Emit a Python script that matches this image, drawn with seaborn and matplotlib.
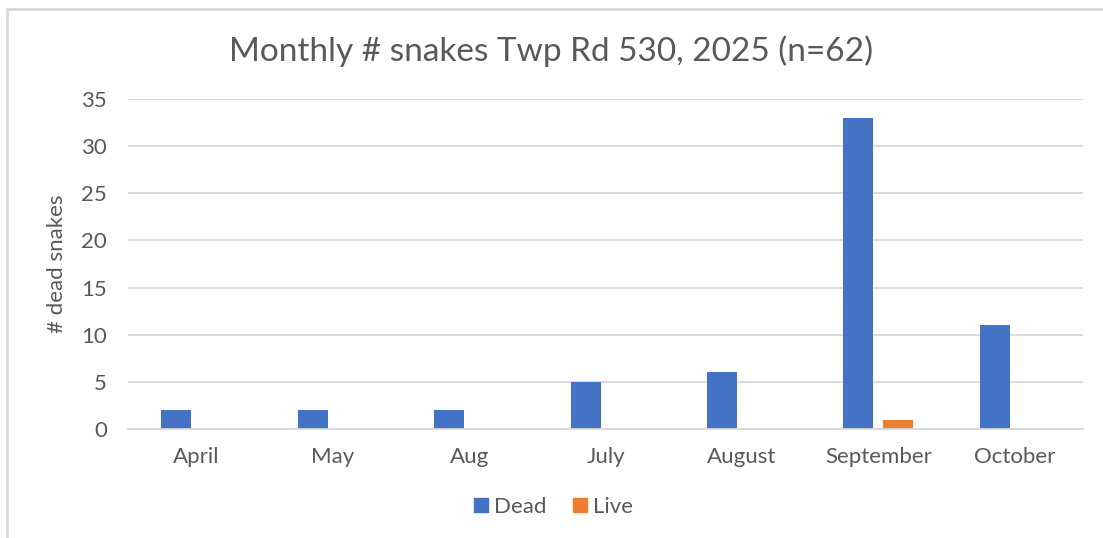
import pandas as pd
import matplotlib.pyplot as plt
import seaborn as sns
from matplotlib.lines import Line2D

# Data
months = ['April', 'May', 'Aug', 'July', 'August', 'September', 'October']
dead = [2, 2, 2, 5, 6, 33, 11]
live = [0, 0, 0, 0, 0, 1, 0]

df = pd.DataFrame({
    'Month': months * 2,
    'Count': dead + live,
    'Status': ['Dead'] * len(months) + ['Live'] * len(months),
})

sns.set_theme(style='white')
plt.rcParams['font.family'] = ['Lato', 'DejaVu Sans']

txt = '#595959'
fig = plt.figure(figsize=(11.03, 5.38), dpi=100)
ax = fig.add_axes([0.116, 0.2026, 0.866, 0.6134])

sns.barplot(data=df, x='Month', y='Count', hue='Status', order=months,
            palette={'Dead': '#4472C4', 'Live': '#ED7D31'}, saturation=1,
            width=0.586, gap=0.25, linewidth=0, ax=ax, legend=False)

ax.set_ylim(0, 35)
ax.set_xlim(-0.5, len(months) - 0.5)
ax.set_yticks(range(0, 36, 5))
ax.yaxis.grid(True, color='#D9D9D9', linewidth=1.3)
ax.set_axisbelow(True)
for s in ['top', 'right', 'left']:
    ax.spines[s].set_visible(False)
ax.spines['bottom'].set_color('#D9D9D9')
ax.spines['bottom'].set_linewidth(1.3)
ax.tick_params(axis='both', length=0, labelsize=16, colors=txt)
ax.tick_params(axis='x', pad=13)
ax.tick_params(axis='y', pad=15)
ax.set_xlabel('')
ax.set_ylabel('# dead snakes', fontsize=16, color=txt, labelpad=10)

fig.text(0.5, 0.905, 'Monthly # snakes Twp Rd 530, 2025 (n=62)',
         ha='center', va='center', fontsize=24, color=txt)

handles = [Line2D([], [], marker='s', linestyle='', markersize=10, color='#4472C4'),
           Line2D([], [], marker='s', linestyle='', markersize=10, color='#ED7D31')]
fig.legend(handles, ['Dead', 'Live'], loc='center', bbox_to_anchor=(0.5, 0.058),
           ncol=2, frameon=False, fontsize=16, labelcolor=txt,
           handletextpad=0.1, columnspacing=1.0, handlelength=1)

# light chart-area border (left and top edges visible)
fig.add_artist(Line2D([7 / 1103, 7 / 1103], [0, 1 - 9 / 538], color='#D9D9D9', lw=2,
                      transform=fig.transFigure))
fig.add_artist(Line2D([7 / 1103, 1], [1 - 9 / 538, 1 - 9 / 538], color='#D9D9D9', lw=2,
                      transform=fig.transFigure))

fig.savefig('out.png', dpi=100)
